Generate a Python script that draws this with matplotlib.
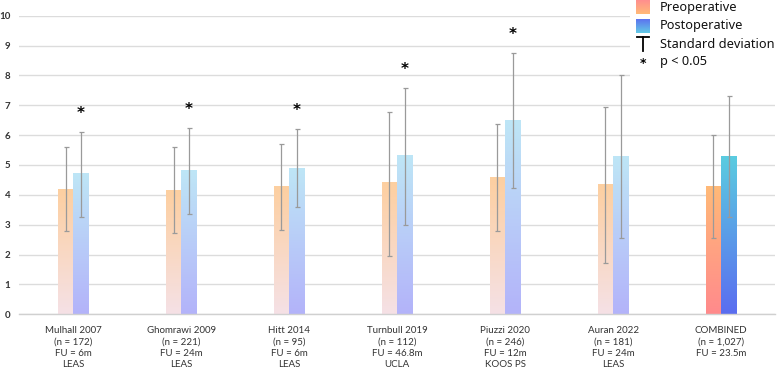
import numpy as np
import matplotlib
matplotlib.use('Agg')
import matplotlib.pyplot as plt
from matplotlib.colors import to_rgb
from matplotlib.lines import Line2D
from matplotlib.patches import Rectangle

studies = ["Mulhall 2007", "Ghomrawi 2009", "Hitt 2014", "Turnbull 2019",
           "Piuzzi 2020", "Auran 2022", "COMBINED"]
n_labels = ["(n = 172)", "(n = 221)", "(n = 95)", "(n = 112)",
            "(n = 246)", "(n = 181)", "(n = 1,027)"]
fu_labels = ["FU = 6m", "FU = 24m", "FU = 6m", "FU = 46.8m",
             "FU = 12m", "FU = 24m", "FU = 23.5m"]
measures = ["LEAS", "LEAS", "LEAS", "UCLA", "KOOS PS", "LEAS", ""]
pre_mean = [4.18, 4.14, 4.26, 4.40, 4.56, 4.33, 4.26]
pre_low = [2.80, 2.71, 2.81, 1.96, 2.80, 1.72, 2.57]
pre_high = [5.60, 5.60, 5.69, 6.78, 6.37, 6.94, 5.99]
post_mean = [4.70, 4.81, 4.88, 5.30, 6.49, 5.28, 5.27]
post_low = [3.26, 3.37, 3.59, 2.99, 4.22, 2.57, 3.27]
post_high = [6.12, 6.25, 6.20, 7.58, 8.75, 8.00, 7.31]
significant = [True, True, True, True, True, False, False]
legend_labels = ["Preoperative", "Postoperative", "Standard deviation", "p < 0.05"]

W, H = 777, 370
fig = plt.figure(figsize=(W / 100, H / 100), dpi=100)
ax = fig.add_axes([19.3 / W, 1 - 314.3 / H, (775 - 19.3) / W, (314.3 - 15.7) / H])

def grad(top, bottom, n=256):
    t = np.linspace(0, 1, n)[:, None]
    a = np.array(to_rgb(top)); b = np.array(to_rgb(bottom))
    return (a * (1 - t) + b * t).reshape(n, 1, 3)

pre_cols = ("#FDCFA0", "#F5E1E6")
post_cols = ("#BEE6F6", "#B3B3FA")
pre_comb = ("#FFBA78", "#FF8A8C")
post_comb = ("#5BCCE0", "#5A6DF0")

x = np.arange(len(studies))
bw = 0.143
for i in x:
    last = (i == len(studies) - 1)
    pc = pre_comb if last else pre_cols
    qc = post_comb if last else post_cols
    for xc, val, cols in [(i - bw / 2, pre_mean[i], pc), (i + bw / 2, post_mean[i], qc)]:
        ax.imshow(grad(*cols), extent=[xc - bw / 2, xc + bw / 2, 0, val],
                  aspect='auto', zorder=2, interpolation='bilinear')
    ax.errorbar(i - bw / 2, pre_mean[i],
                yerr=[[pre_mean[i] - pre_low[i]], [pre_high[i] - pre_mean[i]]],
                fmt='none', ecolor='#9a9a9a', elinewidth=0.9, capsize=1.8, capthick=0.9, zorder=3)
    ax.errorbar(i + bw / 2, post_mean[i],
                yerr=[[post_mean[i] - post_low[i]], [post_high[i] - post_mean[i]]],
                fmt='none', ecolor='#9a9a9a', elinewidth=0.9, capsize=1.8, capthick=0.9, zorder=3)
    if significant[i]:
        ax.text(i + bw / 2, post_high[i] + 0.62, "*", ha='center', va='center',
                fontsize=11, fontweight='bold', color='black', zorder=4)

ax.set_xlim(-0.5, len(studies) - 0.5)
ax.set_ylim(0, 10)
ax.set_yticks(range(0, 11))
ax.yaxis.grid(True, color='#dcdcdc', linewidth=1.0, zorder=0)
ax.set_axisbelow(True)
for s in ['top', 'right', 'left']:
    ax.spines[s].set_visible(False)
ax.spines['bottom'].set_color('#d0d0d0')
ax.spines['bottom'].set_linewidth(1.0)
ax.tick_params(axis='both', length=0)
ax.set_yticklabels([str(v) for v in range(0, 11)], fontsize=7, fontweight='bold',
                   color='#333333', family='Lato')
ax.tick_params(axis='y', pad=6.5)
labels = ["\n".join([a, b, c] + ([d] if d else [])) for a, b, c, d in
          zip(studies, n_labels, fu_labels, measures)]
ax.set_xticks(x)
ax.set_xticklabels(labels, fontsize=7, color='#333333', family='Lato',
                   linespacing=1.34, va='top')
ax.tick_params(axis='x', pad=8.5)

# legend
fig.patches.append(Rectangle((630 / W, 1 - 92 / H), 147 / W, 92 / H,
                             transform=fig.transFigure, facecolor='white',
                             edgecolor='none', zorder=5))
def sq_ax(y0, top, bottom):
    a = fig.add_axes([636 / W, 1 - (y0 + 14) / H, 14 / W, 14 / H], zorder=6)
    a.imshow(grad(top, bottom), aspect='auto', extent=[0, 1, 0, 1])
    a.axis('off')
sq_ax(0, "#FF8E8E", "#FFBA78")
sq_ax(19, "#5C6CF0", "#62CBE6")
fig.add_artist(Line2D([643 / W, 643 / W], [1 - 37 / H, 1 - 51 / H],
                      color='black', lw=1.3, transform=fig.transFigure, zorder=6))
fig.add_artist(Line2D([637 / W, 649 / W], [1 - 37 / H, 1 - 37 / H],
                      color='black', lw=1.3, transform=fig.transFigure, zorder=6))
fig.text(643 / W, 1 - 63 / H, "*", ha='center', va='center', fontsize=9,
         fontweight='bold', zorder=6)
for lab, yc in zip(legend_labels, [7, 25, 44, 62]):
    fig.text(660 / W, 1 - yc / H, lab, ha='left', va='center', fontsize=9.2,
             family='Noto Sans', color='#111111', zorder=6)

fig.savefig("out.png", dpi=100)
